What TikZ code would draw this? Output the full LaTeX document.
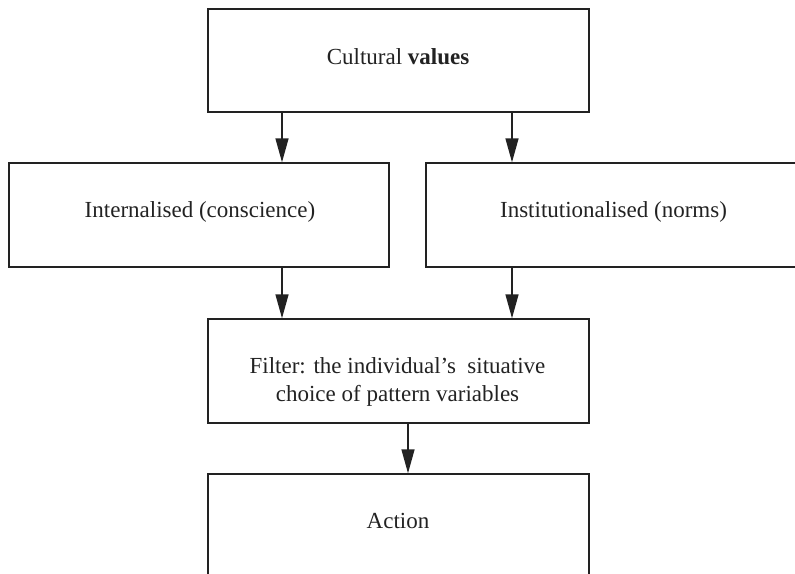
\documentclass[tikz,border=0pt]{standalone}
\usepackage{fontspec}
\setmainfont{Liberation Serif}
\usetikzlibrary{arrows.meta}
\definecolor{ink}{HTML}{222222}
\begin{document}
\begin{tikzpicture}[x=1pt,y=-1pt,
  box/.style={draw=ink, line width=1.4pt, rectangle, inner sep=0pt},
  txt/.style={inner sep=0pt, align=center, text=ink, font=\fontsize{23}{28.7}\selectfont},
  arr/.style={draw=ink, line width=1.4pt, -{Triangle[length=24pt,width=13pt]}}]
\useasboundingbox (0,0) rectangle (795,573);
\clip (0,0) rectangle (795,573);
\node[box, minimum width=381pt, minimum height=103pt] (top) at (398.5,60.5) {};
\node[box, minimum width=380pt, minimum height=104pt] (left) at (199,215) {};
\node[box, minimum width=420pt, minimum height=104pt] (right) at (636,215) {};
\node[box, minimum width=381pt, minimum height=104pt] (filter) at (398.5,371) {};
\node[box, minimum width=381pt, minimum height=110pt] (action) at (398.5,529) {};
\node[txt, anchor=base] (toptext) at (398,64) {Cultural \textbf{values}};
\node[txt, anchor=base] (lefttext) at (200,217) {Internalised (conscience)};
\node[txt, anchor=base] (righttext) at (613.5,217) {Institutionalised (norms)};
\node[txt] (filtertext) at (397.5,382) {Filter: the individual’s\ \ situative\\choice of pattern variables};
\node[txt, anchor=base] (actiontext) at (398,528) {Action};
\draw[arr] (top.south -| 282,0) -- (left.north -| 282,0);
\draw[arr] (top.south -| 512,0) -- (right.north -| 512,0);
\draw[arr] (left.south -| 282,0) -- (filter.north -| 282,0);
\draw[arr] (right.south -| 512,0) -- (filter.north -| 512,0);
\draw[arr] (filter.south -| 408,0) -- (action.north -| 408,0);
\end{tikzpicture}
\end{document}
